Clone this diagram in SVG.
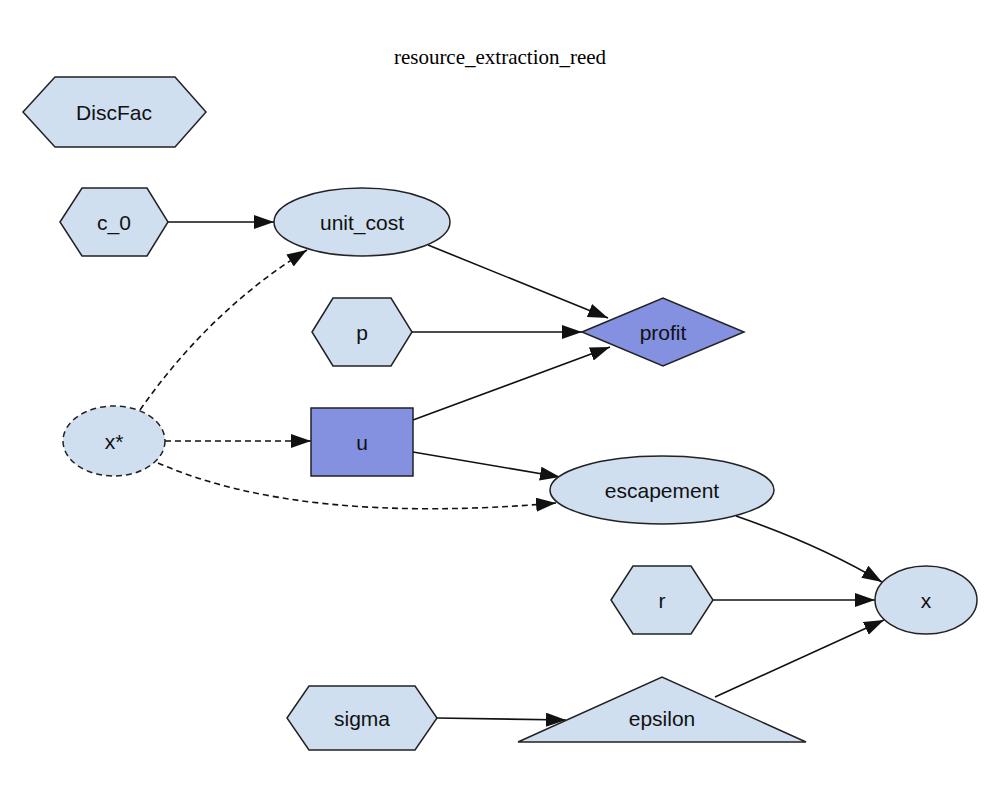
<svg xmlns="http://www.w3.org/2000/svg" width="1000" height="800" viewBox="0 0 1000 800">
<style>
.n{fill:#cfdff0;stroke:#222;stroke-width:1.5}
.d{fill:#8490e0;stroke:#222;stroke-width:1.5}
.t{font-family:"Liberation Sans",Arial,sans-serif;font-size:21px;text-anchor:middle;dominant-baseline:central;fill:#111}
.e{fill:none;stroke:#111;stroke-width:1.6;marker-end:url(#a)}
.ds{stroke-dasharray:6,4}
</style>
<defs><marker id="a" markerUnits="userSpaceOnUse" markerWidth="22" markerHeight="16" refX="20" refY="7" orient="auto"><path d="M0,0 L20,7 L0,14 Z" fill="#111"/></marker></defs>
<rect width="1000" height="800" fill="#fff"/>
<text x="500" y="57" font-family="Liberation Serif,serif" font-size="21" text-anchor="middle" dominant-baseline="central">resource_extraction_reed</text>
<g id="edges">
<path class="e" d="M168,222 L274,222"/>
<path class="e" d="M428,245 L608,318"/>
<path class="e" d="M412,332 L582,332"/>
<path class="e" d="M413,420 L610,347"/>
<path class="e ds" d="M140,410 Q210,310 307,250"/>
<path class="e ds" d="M165,441 L311,441"/>
<path class="e ds" d="M158,463 Q300,525 556,503"/>
<path class="e" d="M413,452 L560,477"/>
<path class="e" d="M736,516 Q820,545 882,582"/>
<path class="e" d="M713,600 L875,600"/>
<path class="e" d="M715,697 L884,620"/>
<path class="e" d="M437,718 L566,720"/>
</g>
<g id="DiscFac"><polygon class="n" points="23,112 55,77 175,77 206,112 175,147 55,147"/><text class="t" x="114" y="112">DiscFac</text></g>
<g id="c_0"><polygon class="n" points="60,222 82,188 147,188 168,222 147,256 82,256"/><text class="t" x="114" y="222">c_0</text></g>
<g id="unit_cost"><ellipse class="n" cx="362" cy="222" rx="88" ry="34"/><text class="t" x="362" y="222">unit_cost</text></g>
<g id="p"><polygon class="n" points="312,332 333,298 391,298 412,332 391,366 333,366"/><text class="t" x="362" y="332">p</text></g>
<g id="profit"><polygon class="d" points="582,332 663,298 744,332 663,366"/><text class="t" x="663" y="332">profit</text></g>
<g id="xstar"><ellipse class="n ds" cx="114" cy="441" rx="51" ry="35"/><text class="t" x="114" y="441">x*</text></g>
<g id="u"><rect class="d" x="311" y="408" width="102" height="68"/><text class="t" x="362" y="442">u</text></g>
<g id="escapement"><ellipse class="n" cx="662" cy="490" rx="112" ry="34"/><text class="t" x="662" y="490">escapement</text></g>
<g id="r"><polygon class="n" points="611,600 633,566 691,566 713,600 691,634 633,634"/><text class="t" x="662" y="600">r</text></g>
<g id="x"><ellipse class="n" cx="926" cy="600" rx="51" ry="34"/><text class="t" x="926" y="600">x</text></g>
<g id="sigma"><polygon class="n" points="287,718 309,686 415,686 437,718 415,750 309,750"/><text class="t" x="362" y="718">sigma</text></g>
<g id="epsilon"><polygon class="n" points="518,742 662,677 806,742"/><text class="t" x="662" y="718">epsilon</text></g>
</svg>
